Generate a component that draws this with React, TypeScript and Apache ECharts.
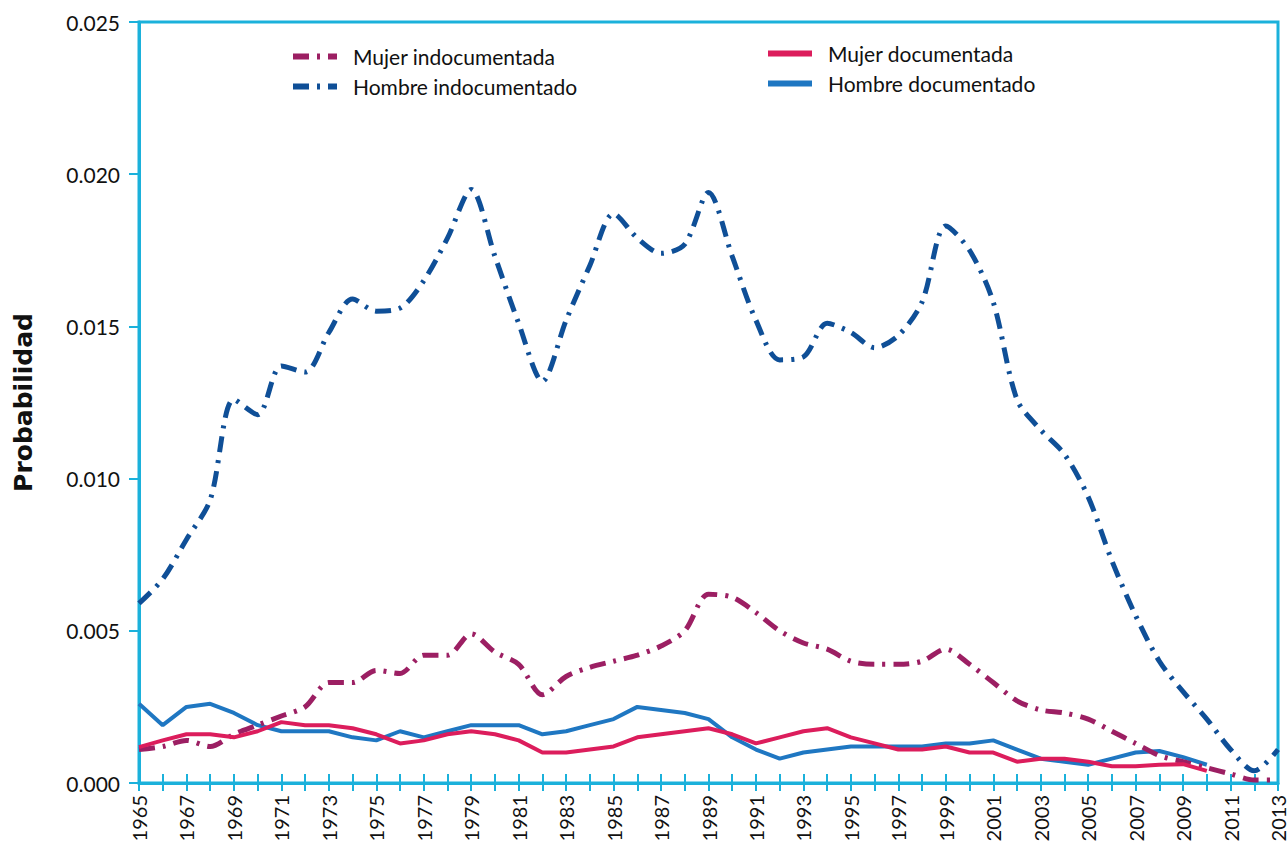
import React, { useEffect, useRef } from "react";
import * as echarts from "echarts";

const years: string[] = [];
for (let y = 1965; y <= 2013; y++) years.push(String(y));

// 1965 ... 2013
const hombreIndoc = [
  0.0059, 0.0067, 0.0080, 0.0093, 0.0126, 0.0121, 0.0137, 0.0135, 0.0148, 0.0159,
  0.0155, 0.0156, 0.0165, 0.0179, 0.0195, 0.0173, 0.0151, 0.0132, 0.0152, 0.0170,
  0.0187, 0.0179, 0.0174, 0.0177, 0.0194, 0.0173, 0.0152, 0.0139, 0.0140, 0.0151,
  0.0148, 0.0143, 0.0147, 0.0158, 0.0183, 0.0175, 0.0158, 0.0126, 0.0116, 0.0108,
  0.0094, 0.0073, 0.0055, 0.0040, 0.0030, 0.0021, 0.0011, 0.0004, 0.0011,
];
const mujerIndoc = [
  0.0011, 0.0012, 0.0014, 0.0012, 0.0016, 0.0019, 0.0022, 0.0025, 0.0033, 0.0033,
  0.0037, 0.0036, 0.0042, 0.0042, 0.0049, 0.0043, 0.0039, 0.0029, 0.0035, 0.0038,
  0.0040, 0.0042, 0.0045, 0.0050, 0.0062, 0.0061, 0.0056, 0.0050, 0.0046, 0.0044,
  0.0040, 0.0039, 0.0039, 0.0040, 0.0044, 0.0039, 0.0033, 0.0027, 0.0024, 0.0023,
  0.0021, 0.0017, 0.0013, 0.0009, 0.0007, 0.0005, 0.0003, 0.0001, 0.0001,
];
const mujerDoc: (number | null)[] = [
  0.00118, 0.0014, 0.0016, 0.0016, 0.0015, 0.0017, 0.0020, 0.0019, 0.0019, 0.0018,
  0.0016, 0.0013, 0.0014, 0.0016, 0.0017, 0.0016, 0.0014, 0.0010, 0.0010, 0.0011,
  0.0012, 0.0015, 0.0016, 0.0017, 0.0018, 0.0016, 0.0013, 0.0015, 0.0017, 0.0018,
  0.0015, 0.0013, 0.0011, 0.0011, 0.0012, 0.0010, 0.0010, 0.0007, 0.0008, 0.0008,
  0.0007, 0.00055, 0.00055, 0.0006, 0.00062, 0.0004, null, null, null,
];
const hombreDoc: (number | null)[] = [
  0.0026, 0.0019, 0.0025, 0.0026, 0.0023, 0.0019, 0.0017, 0.0017, 0.0017, 0.0015,
  0.0014, 0.0017, 0.0015, 0.0017, 0.0019, 0.0019, 0.0019, 0.0016, 0.0017, 0.0019,
  0.0021, 0.0025, 0.0024, 0.0023, 0.0021, 0.0015, 0.0011, 0.0008, 0.0010, 0.0011,
  0.0012, 0.0012, 0.0012, 0.0012, 0.0013, 0.0013, 0.0014, 0.0011, 0.0008, 0.0007,
  0.0006, 0.0008, 0.0010, 0.00105, 0.00085, 0.0006, null, null, null,
];

const C_AXIS = "#1bb1db";
const C_HI = "#0f4f97";
const C_MI = "#9c1f63";
const C_MD = "#dc1d5c";
const C_HD = "#1f77c2";
const FONT = "Lato, 'Open Sans', sans-serif";

export default function App() {
  const ref = useRef<HTMLDivElement>(null);
  useEffect(() => {
    if (!ref.current) return;
    const chart = echarts.init(ref.current, null, { renderer: "svg" });
    const dash = [16, 8, 3, 8];
    const legendCommon = {
      orient: "vertical",
      itemWidth: 44,
      itemHeight: 12,
      itemGap: 9,
      itemStyle: { opacity: 0 },
      lineStyle: { width: 6 },
      textStyle: { fontSize: 21, color: "#111", fontFamily: FONT, padding: [0, 0, 0, 11] },
    };
    chart.setOption({
      animation: false,
      textStyle: { fontFamily: FONT },
      grid: {
        left: 139,
        top: 22,
        right: 9,
        bottom: 63,
        show: true,
        borderColor: C_AXIS,
        borderWidth: 3,
      },
      legend: [
        {
          ...legendCommon,
          data: ["Mujer indocumentada", "Hombre indocumentado"],
          left: 285,
          top: 41,
        },
        {
          ...legendCommon,
          data: ["Mujer documentada", "Hombre documentado"],
          left: 760,
          top: 38,
        },
      ],
      xAxis: [
        {
          type: "category",
          data: years,
          boundaryGap: false,
          axisLine: { lineStyle: { color: C_AXIS, width: 3 } },
          axisTick: { show: true, interval: 0, length: 8, lineStyle: { color: C_AXIS, width: 2 } },
          axisLabel: {
            interval: 1,
            rotate: 90,
            fontSize: 20,
            color: "#111",
            margin: 12,
            fontFamily: FONT,
          },
        },
        {
          type: "category",
          data: years,
          boundaryGap: false,
          position: "bottom",
          axisLine: { show: false },
          axisTick: { show: true, inside: true, interval: 0, length: 9, lineStyle: { color: C_AXIS, width: 2 } },
          axisLabel: { show: false },
        },
      ],
      yAxis: {
        type: "value",
        min: 0,
        max: 0.025,
        interval: 0.005,
        name: "Probabilidad",
        nameLocation: "middle",
        nameGap: 103,
        nameRotate: 90,
        nameTextStyle: { fontSize: 25, fontWeight: "bold", color: "#111", fontFamily: "'DejaVu Sans', sans-serif" },
        axisLine: { show: true, lineStyle: { color: C_AXIS, width: 3 } },
        axisTick: { show: true, length: 10, lineStyle: { color: C_AXIS, width: 2 } },
        splitLine: { show: false },
        axisLabel: {
          fontSize: 21,
          color: "#111",
          margin: 19,
          fontFamily: FONT,
          formatter: (v: number) => v.toFixed(3),
        },
      },
      series: [
        {
          name: "Mujer indocumentada",
          type: "line",
          data: mujerIndoc,
          smooth: 0.3,
          symbol: "none",
          lineStyle: { color: C_MI, width: 5, type: dash },
          itemStyle: { color: C_MI },
          z: 3,
        },
        {
          name: "Hombre indocumentado",
          type: "line",
          data: hombreIndoc,
          smooth: 0.3,
          symbol: "none",
          lineStyle: { color: C_HI, width: 5, type: dash },
          itemStyle: { color: C_HI },
          z: 3,
        },
        {
          name: "Mujer documentada",
          type: "line",
          data: mujerDoc,
          symbol: "none",
          lineStyle: { color: C_MD, width: 4 },
          itemStyle: { color: C_MD },
          z: 4,
        },
        {
          name: "Hombre documentado",
          type: "line",
          data: hombreDoc,
          symbol: "none",
          lineStyle: { color: C_HD, width: 4 },
          itemStyle: { color: C_HD },
          z: 2,
        },
      ],
    });
    return () => chart.dispose();
  }, []);
  return (
    <div
      ref={ref}
      style={{ position: "fixed", left: 0, top: 0, width: 1288, height: 846, background: "#fff" }}
    />
  );
}
